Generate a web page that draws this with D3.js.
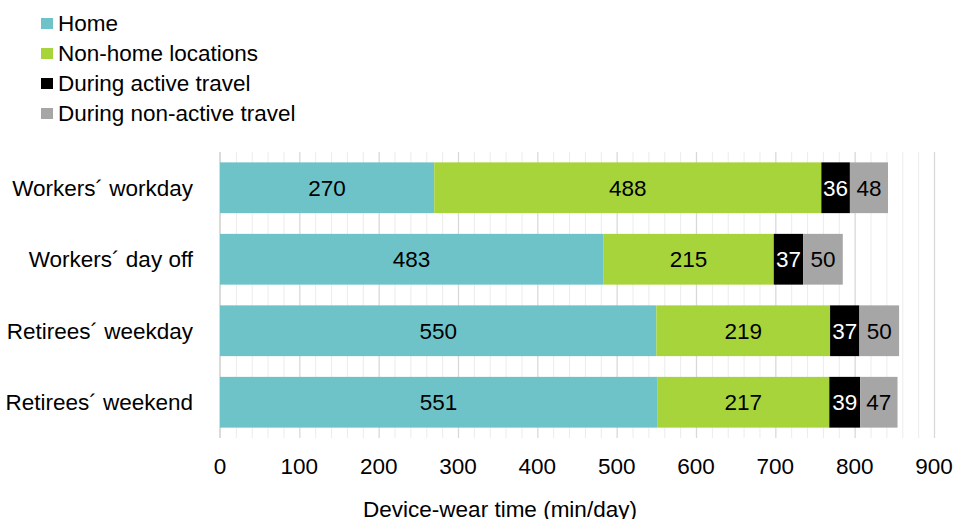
<!DOCTYPE html>
<html>
<head>
<meta charset="utf-8">
<script src="https://cdn.jsdelivr.net/npm/d3@7"></script>
<style>
  body { margin: 0; background: #fff; }
  text { font-family: "Liberation Sans", Arial, sans-serif; }
</style>
</head>
<body>
<svg width="954" height="519"></svg>
<script>
const categories = ["Workers´ workday", "Workers´ day off", "Retirees´ weekday", "Retirees´ weekend"];
const seriesNames = ["Home", "Non-home locations", "During active travel", "During non-active travel"];
const home = [270, 483, 550, 551];
const nonHome = [488, 215, 219, 217];
const activeTravel = [36, 37, 37, 39];
const nonActiveTravel = [48, 50, 50, 47];
const xTicks = [0, 100, 200, 300, 400, 500, 600, 700, 800, 900];

const colors = ["#6ec3c8", "#a8d43b", "#000000", "#a6a6a6"];
const labelColors = ["#000", "#000", "#fff", "#000"];
const fontSize = 22.5;

const rows = categories.map((c, i) => ({
  cat: c,
  "Home": home[i],
  "Non-home locations": nonHome[i],
  "During active travel": activeTravel[i],
  "During non-active travel": nonActiveTravel[i]
}));

const svg = d3.select("svg");
const plotLeft = 220, plotRight = 934, plotTop = 152, plotBottom = 438;

const x = d3.scaleLinear().domain([0, 900]).range([plotLeft, plotRight]);
const y = d3.scaleBand().domain(categories).range([plotTop, plotBottom]).paddingInner(0.29).paddingOuter(0.145);

// minor gridlines
svg.append("g")
  .selectAll("line")
  .data(d3.range(0, 901, 20).filter(v => v % 100 !== 0))
  .enter().append("line")
  .attr("x1", d => x(d) + 0.5).attr("x2", d => x(d) + 0.5)
  .attr("y1", plotTop).attr("y2", plotBottom)
  .attr("stroke", "#ececec").attr("stroke-width", 1);

// major gridlines
svg.append("g")
  .selectAll("line")
  .data(xTicks.slice(1))
  .enter().append("line")
  .attr("x1", d => x(d) + 0.5).attr("x2", d => x(d) + 0.5)
  .attr("y1", plotTop).attr("y2", plotBottom)
  .attr("stroke", "#d9d9d9").attr("stroke-width", 1.3);

// left axis line
svg.append("line")
  .attr("x1", plotLeft).attr("x2", plotLeft)
  .attr("y1", plotTop).attr("y2", plotBottom)
  .attr("stroke", "#cfcfcf").attr("stroke-width", 1.5);

const stacked = d3.stack().keys(seriesNames)(rows);

const layers = svg.append("g").selectAll("g")
  .data(stacked)
  .enter().append("g")
  .attr("fill", (d, i) => colors[i]);

layers.selectAll("rect")
  .data(d => d)
  .enter().append("rect")
  .attr("x", d => x(d[0]))
  .attr("y", d => y(d.data.cat))
  .attr("width", d => x(d[1]) - x(d[0]))
  .attr("height", y.bandwidth());

// data labels
stacked.forEach((layer, i) => {
  svg.append("g").selectAll("text")
    .data(layer)
    .enter().append("text")
    .attr("x", d => (x(d[0]) + x(d[1])) / 2)
    .attr("y", d => y(d.data.cat) + y.bandwidth() / 2)
    .attr("dy", "0.35em")
    .attr("text-anchor", "middle")
    .attr("font-size", fontSize)
    .attr("fill", labelColors[i])
    .text(d => d[1] - d[0]);
});

// category labels
svg.append("g").selectAll("text")
  .data(categories)
  .enter().append("text")
  .attr("x", 193)
  .attr("y", d => y(d) + y.bandwidth() / 2)
  .attr("dy", "0.35em")
  .attr("text-anchor", "end")
  .attr("font-size", fontSize)
  .attr("fill", "#000")
  .text(d => d);

// x tick labels
svg.append("g").selectAll("text")
  .data(xTicks)
  .enter().append("text")
  .attr("x", d => x(d))
  .attr("y", 466)
  .attr("dy", "0.35em")
  .attr("text-anchor", "middle")
  .attr("font-size", fontSize)
  .attr("fill", "#000")
  .text(d => d);

// axis title
svg.append("text")
  .attr("x", 500)
  .attr("y", 509)
  .attr("dy", "0.35em")
  .attr("text-anchor", "middle")
  .attr("font-size", fontSize)
  .attr("fill", "#000")
  .text("Device-wear time (min/day)");

// legend
const legend = svg.append("g").selectAll("g")
  .data(seriesNames)
  .enter().append("g")
  .attr("transform", (d, i) => "translate(41," + (23 + i * 30) + ")");

legend.append("rect")
  .attr("x", 0).attr("y", -5)
  .attr("width", 12).attr("height", 11)
  .attr("fill", (d, i) => colors[i]);

legend.append("text")
  .attr("x", 17).attr("y", 0)
  .attr("dy", "0.35em")
  .attr("font-size", fontSize)
  .attr("fill", "#000")
  .text(d => d);
</script>
</body>
</html>
